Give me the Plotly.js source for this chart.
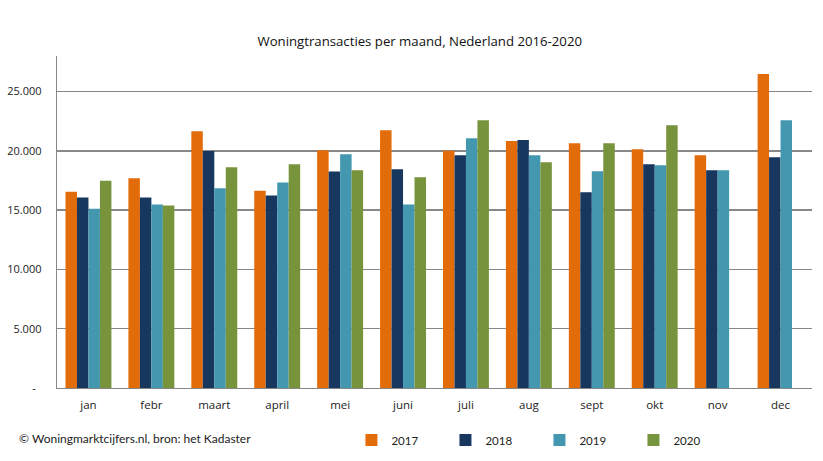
<!DOCTYPE html>
<html>
<head>
<meta charset="utf-8">
<script src="https://cdn.plot.ly/plotly-3.0.1.min.js"></script>
<style>html,body{margin:0;padding:0;background:#fff;}#chart{width:823px;height:461px;}</style>
</head>
<body>
<div id="chart"></div>
<script>
const months = ["jan","febr","maart","april","mei","juni","juli","aug","sept","okt","nov","dec"];
const v2017 = [16550,17680,21650,16640,20050,21740,20000,20840,20640,20130,19630,26480];
const v2018 = [16070,16070,19990,16240,18250,18440,19630,20920,16500,18870,18360,19460];
const v2019 = [15120,15480,16840,17340,19710,15480,21060,19630,18270,18780,18360,22590];
const v2020 = [17480,15400,18610,18870,18360,17770,22590,19040,20640,22170,null,null];
const seriesNames = ["2017","2018","2019","2020"];
const seriesColors = ["#E36C0A","#17375E","#4398B0","#77933C"];
const yTickVals = [0,5000,10000,15000,20000,25000];
const yTickText = ["-\u00a0\u00a0","5.000","10.000","15.000","20.000","25.000"];

const allValues = [v2017, v2018, v2019, v2020];
const traces = allValues.map((vals, i) => ({
  type: "bar",
  name: seriesNames[i],
  x: months,
  y: vals,
  marker: {color: seriesColors[i], line: {width: 0}},
  hoverinfo: "x+y+name"
}));

const layout = {
  width: 823, height: 461,
  margin: {l: 57, r: 11, t: 56, b: 73, autoexpand: false},
  paper_bgcolor: "#fff", plot_bgcolor: "#fff",
  font: {family: "Open Sans, sans-serif", color: "#222", size: 11},
  title: {text: "Woningtransacties per maand, Nederland 2016-2020", font: {size: 13.2, color: "#111"}, x: 0.51, xanchor: "center", y: 0.91, yanchor: "middle"},
  barmode: "group",
  bargap: 0.27,
  bargroupgap: 0,
  showlegend: true,
  legend: {orientation: "h", x: 0.39, xanchor: "left", y: -0.157, yanchor: "middle",
           font: {family: "Lato, sans-serif", size: 11.5, color: "#222"},
           entrywidth: 49, entrywidthmode: "pixels", itemwidth: 30, traceorder: "normal"},
  xaxis: {type: "category", showline: true, linecolor: "#888", linewidth: 1.3, ticks: "", showgrid: false,
          tickfont: {size: 11.5, color: "#222"}, ticklabelstandoff: 6},
  yaxis: {range: [0, 28000], showline: true, linecolor: "#888", linewidth: 1.3, showgrid: true, gridcolor: "#888", gridwidth: 1.3,
          zeroline: false, tickvals: yTickVals, ticktext: yTickText, ticks: "", tickfont: {size: 11, color: "#222"},
          ticklabelstandoff: 12},
  annotations: [{text: "© Woningmarktcijfers.nl, bron: het Kadaster", xref: "paper", yref: "paper",
                 x: -0.053, y: -0.151, xanchor: "left", yanchor: "middle", showarrow: false,
                 font: {family: "Lato, sans-serif", size: 12, color: "#222"}}]
};
Plotly.newPlot("chart", traces, layout, {displayModeBar: false, staticPlot: true});
</script>
</body>
</html>
